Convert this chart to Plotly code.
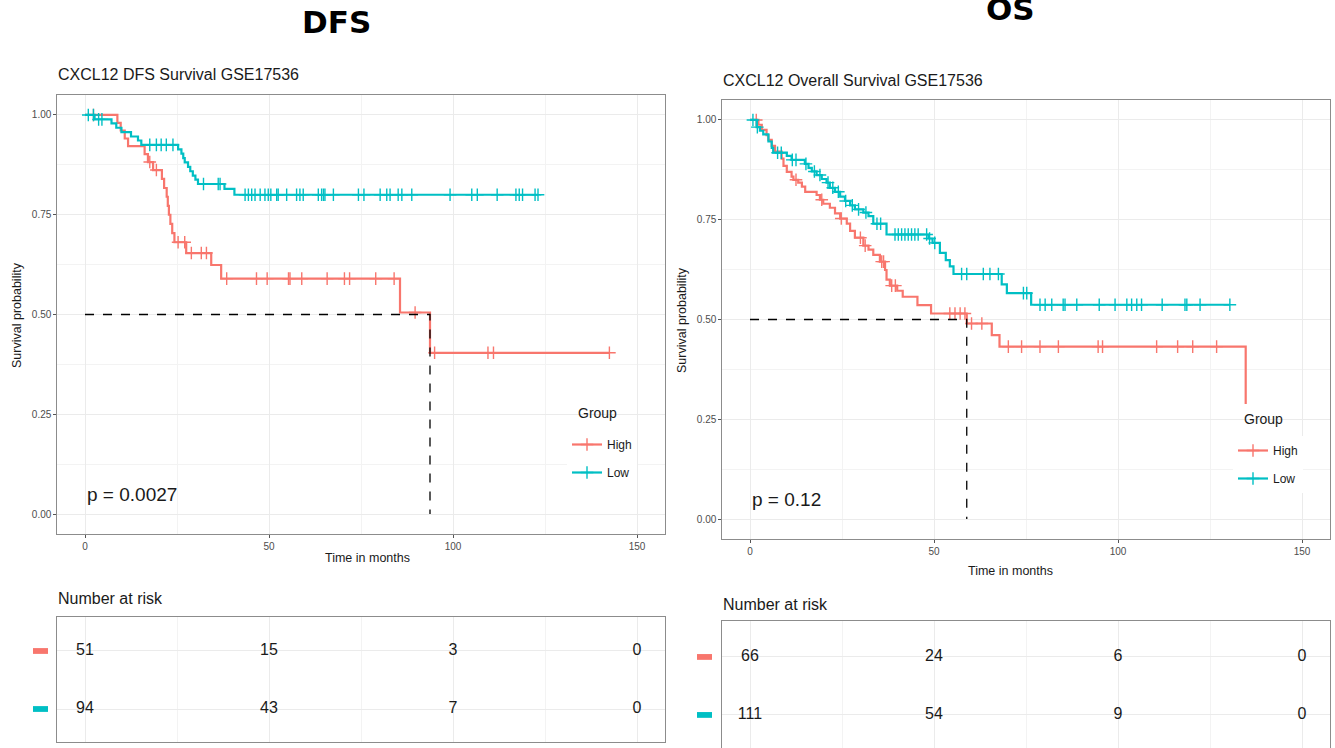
import numpy as np
import plotly.graph_objects as go

W, H = 1335, 748
RED = "#F8766D"
CYAN = "#00BFC4"
FONT = "Liberation Sans Narrow, Liberation Sans, Arial Narrow, sans-serif"

# ---------------- data ----------------
# DFS, High group (event times, survival after event)
dfs_high_t = [0, 8.8, 9.7, 10.8, 11.7, 16.2, 17.1, 18.5, 20.9, 21.5, 22.2, 22.5, 22.8, 23.2, 23.7, 24.3, 27.5, 34.3, 37.0, 85.6, 93.75]
dfs_high_s = [1.0, 0.980, 0.961, 0.941, 0.922, 0.902, 0.882, 0.862, 0.840, 0.817, 0.795, 0.772, 0.750, 0.727, 0.704, 0.681, 0.654, 0.624, 0.590, 0.505, 0.404]
dfs_high_cens = [2.3, 17.6, 19.4, 25.3, 27.1, 28.9, 31.6, 33.0, 38.5, 46.6, 49.5, 55.3, 55.7, 58.9, 65.8, 70.5, 71.9,
                 79.0, 84.0, 89.7, 95.0, 109.5, 111.0, 142.5]
dfs_high_end = 142.5

dfs_low_t = [0, 2.6, 7.2, 8.5, 9.9, 12.5, 14.4, 15.3, 25.3, 26.2, 26.7, 27.1, 28.0, 28.6, 29.3, 30.0, 30.7, 37.9, 40.6]
dfs_low_s = [1.0, 0.989, 0.979, 0.968, 0.957, 0.946, 0.936, 0.925, 0.914, 0.903, 0.892, 0.881, 0.870, 0.859, 0.848, 0.838, 0.827, 0.815, 0.800]
dfs_low_cens = [0.9, 2.3, 3.7, 4.6, 17.6, 19.4, 20.7, 22.1, 23.9, 32.2, 36.2, 36.7, 43.5, 44.4, 45.3, 46.2, 47.6, 48.9,
                49.8, 50.5, 52.1, 52.5, 54.8, 57.5, 58.4, 59.3, 63.4, 64.3, 64.8, 65.2, 67.5, 74.3, 75.8, 80.2, 82.0,
                82.9, 85.1, 86.1, 88.8, 99.2, 105.1, 106.6, 112.0, 117.1, 118.0, 118.9, 122.3, 123.1]
dfs_low_end = 123.1

# OS
os_high_t = [0, 2.3, 3.2, 4.5, 5.0, 5.9, 6.8, 8.6, 9.1, 10.0, 11.3, 11.8, 13.1, 14.1, 15.0, 18.1, 19.0, 19.9, 21.7,
             23.1, 24.5, 26.3, 27.2, 28.5, 30.8, 32.2, 33.5, 35.3, 36.7, 37.1, 38.0, 40.0, 41.5, 45.5, 49.2, 58.9,
             65.7, 67.8, 134.7]
os_high_s = [1.0, 0.988, 0.975, 0.962, 0.950, 0.935, 0.921, 0.903, 0.885, 0.870, 0.858, 0.850, 0.843, 0.833, 0.820,
             0.812, 0.800, 0.790, 0.780, 0.766, 0.753, 0.740, 0.722, 0.705, 0.685, 0.675, 0.662, 0.645, 0.624, 0.600,
             0.585, 0.572, 0.557, 0.536, 0.515, 0.490, 0.461, 0.432, 0.288]
os_high_cens = [1.7, 12.5, 19.5, 24.8, 30.0, 31.3, 35.8, 36.3, 38.5, 39.5, 54.3, 55.7, 57.1, 58.4, 60.2, 63.0, 70.2,
                73.8, 78.8, 83.8, 94.6, 95.8, 110.5, 116.2, 120.3, 126.8]
os_high_end = 134.7

os_low_t = [0, 1.8, 2.7, 3.6, 5.0, 5.9, 6.3, 10.0, 11.3, 14.9, 15.9, 16.8, 18.1, 19.5, 20.8, 21.7, 23.1, 24.5, 25.8,
            27.2, 28.5, 30.8, 32.2, 33.5, 37.1, 48.5, 49.6, 51.6, 53.2, 54.3, 55.3, 68.4, 69.8, 76.4]
os_low_s = [1.0, 0.982, 0.973, 0.964, 0.946, 0.930, 0.918, 0.910, 0.900, 0.890, 0.880, 0.871, 0.862, 0.852, 0.843,
            0.830, 0.820, 0.808, 0.797, 0.786, 0.776, 0.768, 0.759, 0.740, 0.713, 0.703, 0.692, 0.667, 0.649, 0.633,
            0.614, 0.588, 0.566, 0.537]
os_low_cens = [0.8, 2.0, 7.5, 8.5, 11.5, 12.5, 15.2, 17.5, 19.0, 21.2, 22.5, 24.0, 26.0, 27.8, 29.5, 31.5, 34.5, 35.5,
               39.4, 40.3, 41.2, 42.1, 43.0, 43.9, 44.8, 45.7, 48.0, 48.8, 50.2, 57.5, 58.9, 63.4, 65.2, 67.5, 74.3,
               75.2, 78.8, 80.2, 82.0, 85.1, 85.6, 88.8, 94.9, 99.2, 102.4, 103.7, 105.1, 106.4, 112.0, 118.2, 118.7,
               122.3, 130.4]
os_low_end = 130.4

risk_times = [0, 50, 100, 150]
dfs_risk_high = [51, 15, 3, 0]
dfs_risk_low = [94, 43, 7, 0]
os_risk_high = [66, 24, 6, 0]
os_risk_low = [111, 54, 9, 0]

dfs_pval = "p = 0.0027"
os_pval = "p = 0.12"

# ---------------- helpers ----------------
def px_x(px):
    return px / W

def px_y(py):
    return 1 - py / H

def surv_at(t, s, c):
    idx = np.searchsorted(np.asarray(t), np.asarray(c), side="right") - 1
    return list(np.asarray(s)[idx])

def median_time(t, s):
    for ti, si in zip(t, s):
        if si <= 0.5:
            return ti
    return None

fig = go.Figure()

panels = [
    dict(xa="x", ya="y", legend="legend",
         groups=[("High", RED, dfs_high_t, dfs_high_s, dfs_high_cens, dfs_high_end),
                 ("Low", CYAN, dfs_low_t, dfs_low_s, dfs_low_cens, dfs_low_end)]),
    dict(xa="x3", ya="y3", legend="legend2",
         groups=[("High", RED, os_high_t, os_high_s, os_high_cens, os_high_end),
                 ("Low", CYAN, os_low_t, os_low_s, os_low_cens, os_low_end)]),
]

for p in panels:
    for name, col, t, s, cens, end in p["groups"]:
        fig.add_trace(go.Scatter(x=list(t) + [end], y=list(s) + [s[-1]], mode="lines",
                                 line=dict(color=col, width=2.2, shape="hv"),
                                 xaxis=p["xa"], yaxis=p["ya"], showlegend=False, hoverinfo="skip"))
        fig.add_trace(go.Scatter(x=cens, y=surv_at(t, s, cens), mode="markers",
                                 marker=dict(symbol="cross-thin", size=9, line=dict(color=col, width=1.4)),
                                 xaxis=p["xa"], yaxis=p["ya"], showlegend=False, hoverinfo="skip"))
    # median lines
    t, s = p["groups"][0][2], p["groups"][0][3]
    m = median_time(t, s)
    fig.add_trace(go.Scatter(x=[0, m, m], y=[0.5, 0.5, 0], mode="lines",
                             line=dict(color="black", width=1.3, dash="dash"),
                             xaxis=p["xa"], yaxis=p["ya"], showlegend=False, hoverinfo="skip"))
    # legend entries
    for i, (name, col, *_r) in enumerate(p["groups"]):
        fig.add_trace(go.Scatter(x=[None], y=[None], mode="lines+markers", name=name,
                                 line=dict(color=col, width=2.2),
                                 marker=dict(symbol="cross-thin", size=9, line=dict(color=col, width=1.4)),
                                 xaxis=p["xa"], yaxis=p["ya"], legend=p["legend"], legendgroup=p["legend"] + name))

# risk tables
tables = [("x2", "y2", dfs_risk_high, dfs_risk_low), ("x4", "y4", os_risk_high, os_risk_low)]
for xa, ya, rh, rl in tables:
    for yv, vals in ((2, rh), (1, rl)):
        fig.add_trace(go.Scatter(x=risk_times, y=[yv] * len(risk_times), mode="text",
                                 text=[str(v) for v in vals],
                                 textfont=dict(family=FONT, size=16, color="#1A1A1A"),
                                 xaxis=xa, yaxis=ya, showlegend=False, hoverinfo="skip"))

BORDER = "#8C8C8C"
GRID = "#EBEBEB"
MINOR = "#F3F3F3"

def xaxis_cfg(domain, anchor, labels=True):
    return dict(domain=domain, anchor=anchor, range=[-7.5, 157.5], tickvals=[0, 50, 100, 150],
                showticklabels=labels, ticks="outside" if labels else "", ticklen=3, tickcolor="#555",
                tickfont=dict(family=FONT, size=10, color="#4D4D4D"),
                showgrid=True, gridcolor=GRID, gridwidth=1,
                minor=dict(tickvals=[25, 75, 125], showgrid=True, gridcolor=MINOR, gridwidth=1, ticks=""),
                showline=True, mirror=True, linecolor=BORDER, linewidth=1.2, zeroline=False, fixedrange=True)

def yaxis_cfg(domain, anchor):
    return dict(domain=domain, anchor=anchor, range=[-0.05, 1.05], tickvals=[0, 0.25, 0.5, 0.75, 1.0],
                ticktext=["0.00", "0.25", "0.50", "0.75", "1.00"], ticks="outside", ticklen=3, tickcolor="#555",
                tickfont=dict(family=FONT, size=10, color="#4D4D4D"),
                showgrid=True, gridcolor=GRID, gridwidth=1,
                minor=dict(tickvals=[0.125, 0.375, 0.625, 0.875], showgrid=True, gridcolor=MINOR, gridwidth=1, ticks=""),
                showline=True, mirror=True, linecolor=BORDER, linewidth=1.2, zeroline=False, fixedrange=True)

def ytab_cfg(domain, anchor, rng):
    return dict(domain=domain, anchor=anchor, range=rng, tickvals=[1, 2], showticklabels=False, ticks="",
                showgrid=True, gridcolor=GRID, showline=True, mirror=True, linecolor=BORDER, linewidth=1.2,
                zeroline=False, fixedrange=True)

dfs_xd = [px_x(57.4), px_x(664.6)]
os_xd = [px_x(722.4), px_x(1329.6)]

def legend_cfg(x, y):
    return dict(x=px_x(x), y=px_y(y), xanchor="left", yanchor="top", bgcolor="white",
                font=dict(family=FONT, size=12, color="#1A1A1A"), tracegroupgap=9, itemwidth=30)

layout = dict(
    width=W, height=H, margin=dict(l=0, r=0, t=0, b=0),
    paper_bgcolor="white", plot_bgcolor="white",
    font=dict(family=FONT, color="#1A1A1A"),
    xaxis=xaxis_cfg(dfs_xd, "y"), yaxis=yaxis_cfg([px_y(534), px_y(95)], "x"),
    xaxis2=xaxis_cfg(dfs_xd, "y2", labels=False), yaxis2=ytab_cfg([px_y(742), px_y(617)], "x2", [0.431, 2.586]),
    xaxis3=xaxis_cfg(os_xd, "y3"), yaxis3=yaxis_cfg([px_y(539), px_y(100)], "x3"),
    xaxis4=xaxis_cfg(os_xd, "y4", labels=False), yaxis4=ytab_cfg([0.0, px_y(621)], "x4", [0.43, 2.62]),
    legend=legend_cfg(567, 430),
    legend2=legend_cfg(1233, 436),
    showlegend=True,
)
fig.update_layout(**layout)

ann = []
def text(x, y, s, size, xanchor="left", bold=False, family=FONT, angle=0, color="#1A1A1A", xref="paper", yref="paper"):
    ann.append(dict(x=x, y=y, xref=xref, yref=yref, text=f"<b>{s}</b>" if bold else s, showarrow=False,
                    xanchor=xanchor, yanchor="middle", textangle=angle,
                    font=dict(family=family, size=size, color=color)))

text(px_x(336), px_y(22), "DFS", 31, "center", bold=True, family="DejaVu Sans, sans-serif", color="black")
text(px_x(1010), px_y(9), "OS", 31, "center", bold=True, family="DejaVu Sans, sans-serif", color="black")
text(px_x(56), px_y(75), "CXCL12 DFS Survival GSE17536", 16)
text(px_x(721), px_y(81), "CXCL12 Overall Survival GSE17536", 16)
text(px_x(367), px_y(558), "Time in months", 12.5, "center")
text(px_x(1010), px_y(571), "Time in months", 12.5, "center")
text(px_x(17), px_y(315), "Survival probability", 12.5, "center", angle=-90)
text(px_x(682), px_y(320), "Survival probability", 12.5, "center", angle=-90)
text(px_x(56), px_y(598), "Number at risk", 16)
text(px_x(721), px_y(604), "Number at risk", 16)
text(px_x(576), px_y(413), "Group", 14)
text(px_x(1242), px_y(419), "Group", 14)
text(0, 0.05, dfs_pval, 19, xref="x", yref="y")
text(0, 0.05, os_pval, 19, xref="x3", yref="y3")
fig.update_layout(annotations=ann)

shapes = []
for x0, ya in ((33, "y2"), (697, "y4")):
    for yv, col in ((2, RED), (1, CYAN)):
        shapes.append(dict(type="rect", xref="paper", yref=ya, x0=px_x(x0), x1=px_x(x0 + 15),
                           y0=yv - 0.05, y1=yv + 0.05, fillcolor=col, line=dict(width=0)))
fig.update_layout(shapes=shapes)

fig.write_html("out.html")
